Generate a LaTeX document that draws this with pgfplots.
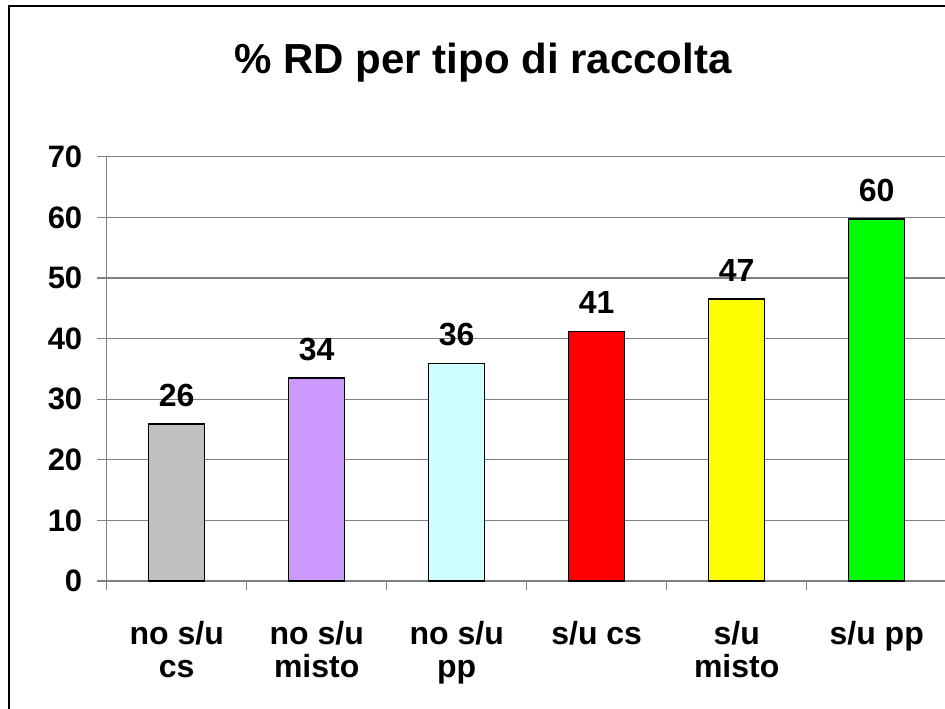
\documentclass[border=0pt]{standalone}
\usepackage{fontspec}
\setmainfont{Liberation Sans}
\usepackage{pgfplots}
\pgfplotsset{compat=1.18}
\definecolor{cgray}{HTML}{C0C0C0}
\definecolor{clav}{HTML}{CC99FF}
\definecolor{ccyan}{HTML}{CCFFFF}
\definecolor{cred}{HTML}{FF0000}
\definecolor{cyel}{HTML}{FFFF00}
\definecolor{cgreen}{HTML}{00FF00}
\definecolor{gridgray}{RGB}{128,128,128}
\begin{document}
\begin{tikzpicture}
\useasboundingbox (0,0) rectangle (472.5pt,-354pt);
\draw[black, line width=0.9pt] (4.5pt,-3pt) rectangle (520pt,-400pt);
\node[anchor=base, font=\fontsize{21}{25}\selectfont\bfseries] at (241.5pt,-36.5pt) {\% RD per tipo di raccolta};
\begin{axis}[
  at={(53.35pt,-290.5pt)}, anchor=south west,
  scale only axis, width=420pt, height=212.15pt,
  xmin=-0.5, xmax=5.5, ymin=0, ymax=70,
  axis lines*=left,
  axis line style={draw=gridgray, line width=0.6pt},
  ytick={0,10,...,70},
  xtick={0,...,5},
  xticklabels={{no s/u\\cs},{no s/u\\misto},{no s/u\\pp},{s/u cs},{s/u\\misto},{s/u pp}},
  minor xtick={-0.5,0.5,...,5.5},
  major x tick style={draw=none},
  tick align=outside,
  major tick length=4.7pt, minor tick length=4.7pt,
  tick style={draw=gridgray, line width=0.6pt},
  ymajorgrids,
  grid style={draw=gridgray, line width=0.6pt},
  /pgf/number format/assume math mode=true,
  yticklabel style={font=\fontsize{15.5}{17}\selectfont\bfseries, xshift=-4pt},
  xticklabel style={font=\fontsize{16}{16.5}\selectfont\bfseries, align=center, anchor=north, yshift=-12pt},
  ybar, bar width=28pt, bar shift=0pt,
  point meta=explicit symbolic,
  nodes near coords={\pgfplotspointmeta},
  every node near coord/.append style={font=\fontsize{16}{18}\selectfont\bfseries, yshift=5pt, black},
  clip=false,
]
\addplot[fill=cgray, draw=black, line width=0.7pt] coordinates {(0,25.9) [26]};
\addplot[fill=clav, draw=black, line width=0.7pt] coordinates {(1,33.5) [34]};
\addplot[fill=ccyan, draw=black, line width=0.7pt] coordinates {(2,35.9) [36]};
\addplot[fill=cred, draw=black, line width=0.7pt] coordinates {(3,41.2) [41]};
\addplot[fill=cyel, draw=black, line width=0.7pt] coordinates {(4,46.5) [47]};
\addplot[fill=cgreen, draw=black, line width=0.7pt] coordinates {(5,59.7) [60]};
\end{axis}
\end{tikzpicture}
\end{document}
